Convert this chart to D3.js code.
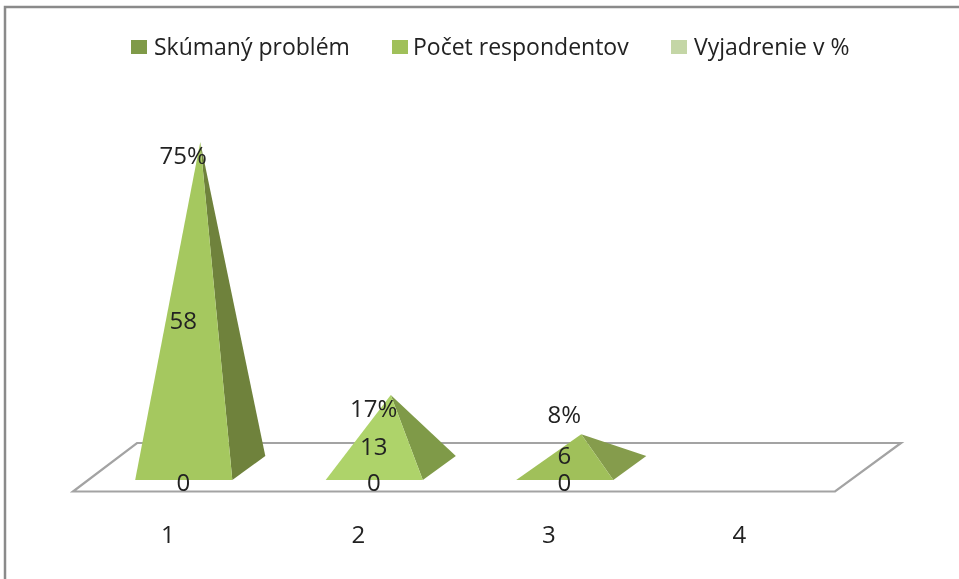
<!DOCTYPE html>
<html><head><meta charset="utf-8">
<script src="https://cdn.jsdelivr.net/npm/d3@7"></script>
<style>html,body{margin:0;padding:0;background:#fff}svg{display:block;filter:blur(0.45px)}text{font-family:"Open Sans",sans-serif;fill:#222}</style>
</head><body><svg id="c" width="959" height="579"></svg>
<script>
const categories = ["1","2","3","4"];
const seriesNames = ["Skúmaný problém","Počet respondentov","Vyjadrenie v %"];
const problemValues = [0,0,0,null];
const respondentValues = [58,13,6,null];
const percentValues = [75,17,8,null];
const legendColors = ["#7f9a48","#a0c05a","#c4d6a6"];
const faceColors = ["#a5c85f","#aed36a","#a0c05a"];
const sideColors = ["#6f823c","#7f9a48","#859c4c"];

const svg = d3.select("#c");
const depth = {x:33, y:-24};
const floor = {l:73, r:835, front:491.5, backDx:65, backDy:-48.5};
const baseFront = 480;
const x = d3.scaleBand().domain(categories).range([floor.l,floor.r]).paddingInner(0.49).paddingOuter(0.245);
const y = d3.scaleLinear().domain([0,58]).range([baseFront,154]);
// y maps value to height measured from the base's centre line
const apexY = v => y(v) + depth.y/2;
const line = d3.line();

// frame
svg.append("path").attr("d",line([[5,579],[5,7],[959,7]])).attr("fill","none").attr("stroke","#8a8a8a").attr("stroke-width",2.5);

// floor
svg.append("path")
  .attr("d",line([[floor.l,floor.front],[floor.r,floor.front],[floor.r+floor.backDx+1,floor.front+floor.backDy],[floor.l+floor.backDx-1,floor.front+floor.backDy]])+"Z")
  .attr("fill","#fff").attr("stroke","#a3a3a3").attr("stroke-width",2.2);

const cx = c => x(c)+x.bandwidth()/2;
const pad = 16;
const bx = c => cx(c)+pad-x.bandwidth()/2;

// pyramids
categories.forEach((c,i)=>{
  const v = respondentValues[i];
  if(v==null) return;
  const l = bx(c)-0.5, r = l+x.bandwidth();
  const apex = [(l+r+depth.x)/2, apexY(v)];
  svg.append("path").attr("d",line([[r,baseFront],[r+depth.x,baseFront+depth.y],apex])+"Z").attr("fill",sideColors[i]);
  svg.append("path").attr("d",line([[l,baseFront],[r,baseFront],apex])+"Z").attr("fill",faceColors[i]);
});

// data labels
const labelSize = 24;
const valueNudge = [14,14,3];
const percentNudge = [12,13,-21];
function label(t,px,py){
  svg.append("text").attr("x",px).attr("y",py).attr("text-anchor","middle").attr("dominant-baseline","central").attr("font-size",labelSize).text(t);
}
categories.forEach((c,i)=>{
  if(respondentValues[i]==null) return;
  const m = bx(c)+x.bandwidth()/2-1;
  label(problemValues[i],m,baseFront+1);
  label(respondentValues[i],m,apexY(respondentValues[i]/2)+valueNudge[i]);
  label(percentValues[i]+"%",m,apexY(respondentValues[i])+percentNudge[i]);
});

// category axis labels
categories.forEach(c=>{
  svg.append("text").attr("x",cx(c)-0.5).attr("y",533).attr("text-anchor","middle").attr("dominant-baseline","central").attr("font-size",labelSize).text(c);
});

// legend
const legendX = [131,392,671], legendText=[154,413,694];
seriesNames.forEach((n,i)=>{
  svg.append("rect").attr("x",legendX[i]).attr("y",40).attr("width",16).attr("height",14).attr("fill",legendColors[i]);
  svg.append("text").attr("x",legendText[i]).attr("y",46).attr("dominant-baseline","central").attr("font-size",23).text(n);
});
</script></body></html>
